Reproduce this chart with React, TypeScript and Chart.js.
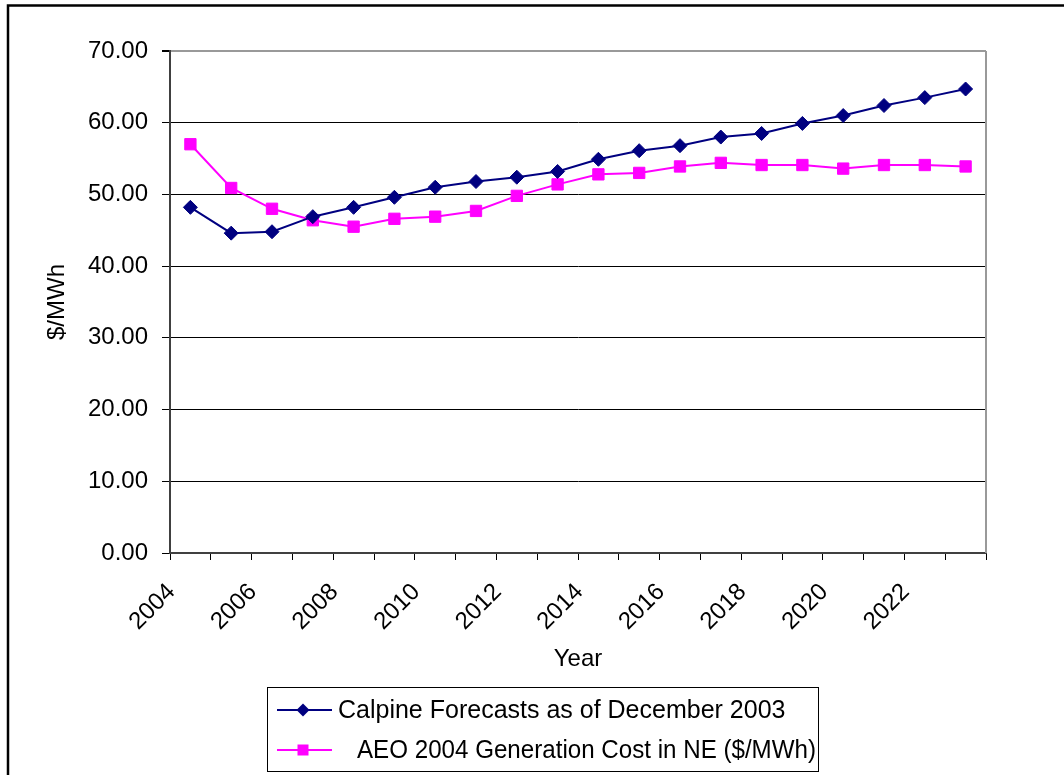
import React, { useEffect, useRef } from "react";
import { Chart, registerables } from "chart.js";

Chart.register(...registerables);

const years: string[] = [
  "2004", "2005", "2006", "2007", "2008", "2009", "2010", "2011", "2012", "2013",
  "2014", "2015", "2016", "2017", "2018", "2019", "2020", "2021", "2022", "2023",
];

const calpine: number[] = [
  48.2, 44.6, 44.8, 46.9, 48.2, 49.6, 51.0, 51.8, 52.4, 53.2,
  54.9, 56.1, 56.8, 58.0, 58.5, 59.9, 61.0, 62.4, 63.5, 64.7,
];

const aeo: number[] = [
  57.0, 50.9, 48.0, 46.4, 45.5, 46.6, 46.9, 47.7, 49.8, 51.4,
  52.8, 53.0, 53.9, 54.4, 54.1, 54.1, 53.6, 54.1, 54.1, 53.9,
];

const seriesLabels: string[] = [
  "Calpine Forecasts as of December 2003",
  "AEO 2004 Generation Cost in NE ($/MWh)",
];

const yTicks: number[] = [0, 10, 20, 30, 40, 50, 60, 70];

const FONT = "'Liberation Sans', Arial, sans-serif";

const framePlugin = {
  id: "framePlugin",
  afterDraw(chart: any) {
    const ctx = chart.ctx;
    const { chartArea } = chart;
    ctx.save();
    // outer frame (only left and top visible)
    ctx.strokeStyle = "#000";
    ctx.lineWidth = 2.5;
    ctx.strokeRect(8, 5.5, 1200, 1000);
    // plot area right border
    ctx.strokeStyle = "#999";
    ctx.lineWidth = 2;
    ctx.beginPath();
    ctx.moveTo(chartArea.right, chartArea.top);
    ctx.lineTo(chartArea.right, chartArea.bottom);
    ctx.stroke();

    // legend
    const bx = 267.5, by = 687.5, bw = 551, bh = 84;
    ctx.fillStyle = "#fff";
    ctx.fillRect(bx, by, bw, bh);
    ctx.strokeStyle = "#000";
    ctx.lineWidth = 1;
    ctx.strokeRect(bx, by, bw, bh);
    const rows = [710, 750];
    const textX = [338, 357];
    const maxW = [470, 459];
    chart.data.datasets.forEach((ds: any, i: number) => {
      const y = rows[i];
      ctx.strokeStyle = ds.borderColor;
      ctx.lineWidth = 2;
      ctx.beginPath();
      ctx.moveTo(277, y);
      ctx.lineTo(332, y);
      ctx.stroke();
      ctx.fillStyle = ds.pointBackgroundColor;
      ctx.beginPath();
      if (ds.pointStyle === "rectRot") {
        const r = 6.5;
        ctx.moveTo(303 - r, y);
        ctx.lineTo(303, y - r);
        ctx.lineTo(303 + r, y);
        ctx.lineTo(303, y + r);
        ctx.closePath();
      } else {
        ctx.rect(303 - 5.5, y - 5.5, 11, 11);
      }
      ctx.fill();
      ctx.fillStyle = "#000";
      ctx.font = `25px ${FONT}`;
      ctx.textAlign = "left";
      ctx.textBaseline = "middle";
      ctx.fillText(ds.label, textX[i], y + 1, maxW[i]);
    });
    ctx.restore();
  },
};

export default function App() {
  const ref = useRef<HTMLCanvasElement | null>(null);

  useEffect(() => {
    if (!ref.current) return;
    Chart.defaults.font.family = FONT;
    Chart.defaults.color = "#000";
    const chart = new Chart(ref.current, {
      type: "line",
      data: {
        labels: years,
        datasets: [
          {
            label: seriesLabels[0],
            data: calpine,
            borderColor: "#000080",
            backgroundColor: "#000080",
            pointBackgroundColor: "#000080",
            pointBorderColor: "#000080",
            pointStyle: "rectRot",
            pointRadius: 7,
            pointBorderWidth: 1,
            borderWidth: 2,
            tension: 0,
          },
          {
            label: seriesLabels[1],
            data: aeo,
            borderColor: "#FF00FF",
            backgroundColor: "#FF00FF",
            pointBackgroundColor: "#FF00FF",
            pointBorderColor: "#FF00FF",
            pointStyle: "rect",
            pointRadius: 8,
            pointBorderWidth: 1,
            borderWidth: 2,
            tension: 0,
          },
        ],
      },
      options: {
        responsive: false,
        animation: false,
        layout: { padding: { top: 51, right: 78, left: 43, bottom: 101 } },
        plugins: {
          legend: { display: false },
          tooltip: { enabled: false },
        },
        scales: {
          x: {
            type: "category",
            offset: true,
            grid: {
              offset: true,
              drawOnChartArea: false,
              drawTicks: true,
              tickLength: 7,
              color: "#000",
              lineWidth: 1,
            },
            border: { color: "#404040", width: 2 },
            ticks: {
              autoSkip: false,
              minRotation: 45,
              maxRotation: 45,
              padding: 18,
              labelOffset: -19,
              font: { size: 24 },
              color: "#000",
              callback: function (this: any, val: any, i: number) {
                return i % 2 === 0 ? this.getLabelForValue(val) : "";
              },
            },
            title: {
              display: true,
              text: "Year",
              font: { size: 24 },
              color: "#000",
              padding: 0,
            },
            afterFit: (scale: any) => {
              scale.height = 121;
            },
          },
          y: {
            min: 0,
            max: 70,
            afterBuildTicks: (scale: any) => {
              scale.ticks = yTicks.map((v) => ({ value: v }));
            },
            grid: {
              color: (c: any) => (c.tick && c.tick.value === 70 ? "#999" : "#000"),
              lineWidth: (c: any) => (c.tick && c.tick.value === 70 ? 2 : 1),
              tickColor: "#000",
              tickLength: 8,
            },
            border: { color: "#404040", width: 2 },
            ticks: {
              padding: 14,
              font: { size: 24 },
              color: "#000",
              callback: (v: any) => Number(v).toFixed(2),
            },
            title: {
              display: true,
              text: "$/MWh",
              font: { size: 24 },
              color: "#000",
              padding: 0,
            },
            afterFit: (scale: any) => {
              scale.width = 127;
            },
          },
        },
      },
      plugins: [framePlugin],
    });
    return () => chart.destroy();
  }, []);

  return (
    <div style={{ position: "absolute", left: 0, top: 0, width: 1064, height: 775, background: "#fff" }}>
      <canvas ref={ref} width={1064} height={775} style={{ display: "block" }} />
    </div>
  );
}
